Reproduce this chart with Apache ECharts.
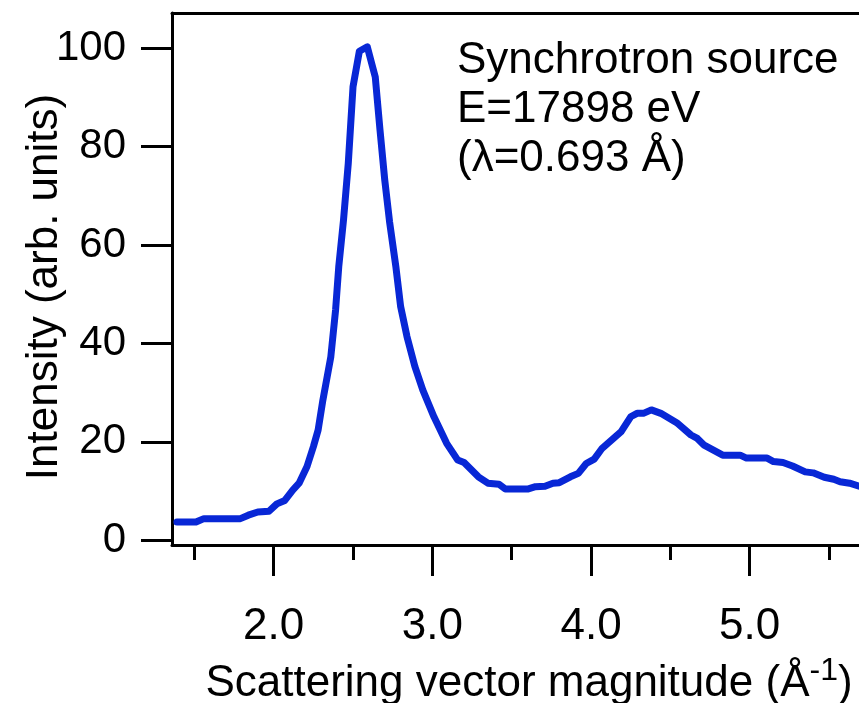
<!DOCTYPE html>
<html>
<head>
<meta charset="utf-8">
<title>Synchrotron scattering profile</title>
<script src="https://cdn.jsdelivr.net/npm/echarts@6/dist/echarts.min.js"></script>
<style>
  html, body { margin: 0; padding: 0; background: #ffffff; }
  #chart { width: 859px; height: 703px; }
</style>
</head>
<body>
<div id="chart"></div>
<script>
// Scattering vector magnitude q (1/Å)
const q = [
  1.39, 1.51, 1.56, 1.79, 1.84, 1.90, 1.97, 2.02, 2.07, 2.12,
  2.16, 2.21, 2.25, 2.28, 2.31, 2.36, 2.39, 2.41, 2.44, 2.47,
  2.50, 2.54, 2.59, 2.64, 2.67, 2.70, 2.73, 2.77, 2.80, 2.84,
  2.89, 2.94, 3.01, 3.09, 3.16, 3.20, 3.29, 3.35, 3.42, 3.46,
  3.60, 3.65, 3.71, 3.76, 3.80, 3.87, 3.92, 3.97, 4.02, 4.07,
  4.19, 4.25, 4.29, 4.33, 4.38, 4.44, 4.54, 4.63, 4.67, 4.71,
  4.83, 4.94, 4.98, 5.11, 5.15, 5.21, 5.27, 5.35, 5.40, 5.47,
  5.53, 5.57, 5.63, 5.69
];
// Intensity (arb. units), normalised to the main peak
const intensity = [
  3.7, 3.7, 4.4, 4.4, 5.1, 5.75, 5.9, 7.4, 8.1, 10.2,
  11.6, 15.0, 19.0, 22.4, 28.5, 37.3, 46.8, 55.6, 65.1, 76.6,
  92.2, 99.4, 100.3, 94.2, 83.4, 73.2, 64.8, 55.6, 47.5, 41.4,
  35.3, 30.5, 25.1, 19.7, 16.3, 15.8, 12.9, 11.6, 11.4, 10.4,
  10.4, 10.9, 11.0, 11.6, 11.7, 12.9, 13.6, 15.6, 16.5, 18.7,
  22.1, 25.1, 25.8, 25.8, 26.5, 25.8, 23.9, 21.4, 20.7, 19.4,
  17.3, 17.3, 16.7, 16.7, 16.0, 15.8, 15.1, 13.9, 13.7, 12.8,
  12.4, 11.9, 11.6, 11.0
];
const yTicks = [0, 20, 40, 60, 80, 100];
const xMajorTicks = [2, 3, 4, 5];
const xMinorTicks = [1.5, 2.5, 3.5, 4.5, 5.5];
const notes = ['Synchrotron source', 'E=17898 eV', '(λ=0.693 Å)'];

const FONT = '"Liberation Sans", Arial, sans-serif';
const INK = '#000000';
const xRange = { min: 1.359, max: 5.689 };
const yRange = { min: -0.96, max: 107.17 };
const gridBox = { left: 172, right: 0, top: 13, bottom: 158 };

const chart = echarts.init(document.getElementById('chart'), null, { renderer: 'canvas' });

const makeGrid = () => Object.assign({ containLabel: false, outerBoundsMode: 'none' }, gridBox);

const option = {
  animation: false,
  backgroundColor: '#ffffff',
  grid: [makeGrid(), makeGrid()],
  xAxis: [
    {
      type: 'value', gridIndex: 0, position: 'bottom',
      min: xRange.min, max: xRange.max,
      axisLine: { show: true, onZero: false, lineStyle: { color: INK, width: 3 } },
      axisTick: { show: true, customValues: xMajorTicks, length: 31, lineStyle: { color: INK, width: 3 } },
      axisLabel: {
        show: true, customValues: xMajorTicks, margin: 60,
        formatter: v => v.toFixed(1),
        fontSize: 44, fontFamily: FONT, color: INK
      },
      splitLine: { show: false },
      name: 'Scattering vector magnitude (Å{sup|-1})',
      nameLocation: 'middle',
      nameGap: 110,
      nameMoveOverlap: false,
      nameTextStyle: {
        fontSize: 44, fontFamily: FONT, color: INK,
        padding: [0, 0, 0, 27],
        rich: {
          sup: { fontSize: 32, fontFamily: FONT, color: INK, verticalAlign: 'top', padding: [0, 0, 26, 0] }
        }
      }
    },
    {
      // top frame line
      type: 'value', gridIndex: 0, position: 'top',
      min: xRange.min, max: xRange.max,
      axisLine: { show: true, onZero: false, lineStyle: { color: INK, width: 3 } },
      axisTick: { show: false }, axisLabel: { show: false }, splitLine: { show: false }
    },
    {
      // minor ticks at the half-integers
      type: 'value', gridIndex: 1, position: 'bottom',
      min: xRange.min, max: xRange.max,
      axisLine: { show: false, onZero: false },
      axisTick: { show: true, customValues: xMinorTicks, length: 15, lineStyle: { color: INK, width: 3 } },
      axisLabel: { show: false }, splitLine: { show: false }
    }
  ],
  yAxis: [
    {
      type: 'value', gridIndex: 0,
      min: yRange.min, max: yRange.max,
      axisLine: { show: true, onZero: false, lineStyle: { color: INK, width: 3 } },
      axisTick: { show: true, customValues: yTicks, length: 31, lineStyle: { color: INK, width: 3 } },
      axisLabel: {
        show: true, customValues: yTicks, margin: 46,
        fontSize: 42, fontFamily: FONT, color: INK
      },
      splitLine: { show: false },
      name: 'Intensity (arb. units)',
      nameLocation: 'middle',
      nameRotate: 90,
      nameGap: 105,
      nameMoveOverlap: false,
      nameTextStyle: { fontSize: 44, fontFamily: FONT, color: INK, padding: [0, 16, 0, 0] }
    },
    {
      type: 'value', gridIndex: 1, show: false,
      min: yRange.min, max: yRange.max
    }
  ],
  graphic: notes.map((t, i) => ({
    type: 'text',
    left: 457,
    top: 39 + i * 49,
    style: { text: t, fontSize: 44, fontFamily: FONT, fill: INK }
  })),
  series: [
    {
      type: 'line',
      xAxisIndex: 0, yAxisIndex: 0,
      data: q.map((v, i) => [v, intensity[i]]),
      showSymbol: false,
      smooth: false,
      lineStyle: { color: '#0827d6', width: 7, join: 'round', cap: 'round' },
      clip: true
    }
  ]
};

chart.setOption(option);
</script>
</body>
</html>
